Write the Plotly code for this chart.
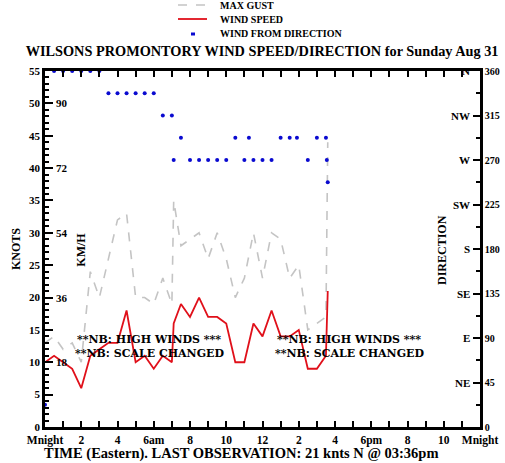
import plotly.graph_objects as go

# observation times (hours since midnight) and values
hours = [0, 0.5, 1, 1.5, 2, 2.5, 3, 3.5, 4, 4.5, 5, 5.5, 6, 6.5, 7, 7.1, 7.5, 8, 8.5,
         9, 9.5, 10, 10.5, 11, 11.5, 12, 12.5, 13, 13.5, 14, 14.5, 15, 15.5, 15.6]
wind_speed = [10, 11, 10, 9, 6, 11, 12, 13, 13, 18, 10, 11, 9, 11, 10, 16, 19, 17, 20,
              17, 17, 16, 10, 10, 16, 14, 18, 14, 14, 15, 9, 9, 11, 21]
max_gust = [13, 14, 12, 13, 10, 24, 20, 26, 32, 33, 20, 20, 19, 23, 19, 35, 28, 29, 30,
            26, 30, 26, 20, 23, 30, 23, 30, 29, 23, 25, 15, 16, 17, 44]

dir_hours = [0, 0.5, 1, 1.5, 2, 2.5, 3, 3.5, 4, 4.5, 5, 5.5, 6, 6.5, 7, 7.1, 7.5,
             8, 8.5, 9, 9.5, 10, 10.5, 11, 11.25, 11.5, 12, 12.5, 13, 13.5, 13.9,
             14.5, 15, 15.5, 15.55, 15.6]
direction = [22.5, 360, 360, 360, 360, 360, 360,
             337.5, 337.5, 337.5, 337.5, 337.5, 337.5, 315, 315, 270, 292.5,
             270, 270, 270, 270, 270, 292.5, 270, 292.5, 270, 270, 270,
             292.5, 292.5, 292.5, 270, 292.5, 292.5, 270, 247.5]

x_ticks = list(range(0, 25))
x_labels = ["Mnight", "", "2", "", "4", "", "6am", "", "8", "", "10", "", "12", "",
            "2", "", "4", "", "6pm", "", "8", "", "10", "", "Mnight"]
kmh_knots = [10, 20, 30, 40, 50]
kmh_labels = ["18", "36", "54", "72", "90"]
dir_ticks = [0, 45, 90, 135, 180, 225, 270, 315, 360]
compass_deg = [45, 90, 135, 180, 225, 270, 315, 360]
compass_labels = ["NE", "E", "SE", "S", "SW", "W", "NW", "N"]
legend_names = ["MAX GUST", "WIND SPEED", "WIND FROM DIRECTION"]

FONT = "Liberation Serif"
GUST_COLOR = "#c4c4c4"
SPEED_COLOR = "#e0101a"
DIR_COLOR = "#0a0ad0"
W, H = 505, 463
ML, MR, MT, MB = 45, 25, 71, 36
PW, PH = W - ML - MR, H - MT - MB


def px_x(x):
    # page pixel -> plot paper fraction
    return (x - ML) / PW


def px_y(y):
    return (H - MB - y) / PH


fig = go.Figure()
fig.add_trace(go.Scatter(x=hours, y=max_gust, mode="lines", name=legend_names[0],
                         line=dict(color=GUST_COLOR, width=1.6, dash="dash")))
fig.add_trace(go.Scatter(x=hours, y=wind_speed, mode="lines", name=legend_names[1],
                         line=dict(color=SPEED_COLOR, width=1.8)))
fig.add_trace(go.Scatter(x=dir_hours, y=direction, mode="markers", name=legend_names[2],
                         yaxis="y2", cliponaxis=False,
                         marker=dict(color=DIR_COLOR, size=4, symbol="circle")))

annotations = []
for k, lab in zip(kmh_knots, kmh_labels):
    annotations.append(dict(x=0, xref="paper", y=k, yref="y", text=lab, showarrow=False,
                            xanchor="left", xshift=9, font=dict(size=11)))
for d, lab in zip(compass_deg, compass_labels):
    annotations.append(dict(x=1, xref="paper", y=d, yref="y2", text=lab, showarrow=False,
                            xanchor="right", xshift=-8, font=dict(size=11)))
nb_font = dict(family="DejaVu Serif", size=11)
annotations += [
    dict(x=0, xref="paper", xshift=-38, y=27.5, yref="y", text="KNOTS", textangle=-90,
         showarrow=False, font=dict(size=12)),
    dict(x=0, xref="paper", xshift=27, y=27.4, yref="y", text="KM/H", textangle=-90,
         showarrow=False, font=dict(size=12)),
    dict(x=1, xref="paper", xshift=-29, y=179, yref="y2", text="DIRECTION", textangle=-90,
         showarrow=False, font=dict(size=12)),
    dict(x=1.65, y=13.5, text="**NB: HIGH WINDS ***", showarrow=False, xanchor="left",
         font=nb_font),
    dict(x=1.55, y=11.3, text="**NB: SCALE CHANGED", showarrow=False, xanchor="left",
         font=nb_font),
    dict(x=12.7, y=13.5, text="**NB: HIGH WINDS ***", showarrow=False, xanchor="left",
         font=nb_font),
    dict(x=12.6, y=11.3, text="**NB: SCALE CHANGED", showarrow=False, xanchor="left",
         font=nb_font),
    dict(x=px_x(241), xref="paper", y=px_y(453), yref="paper", yanchor="middle",
         text="TIME (Eastern). LAST OBSERVATION: 21 knts N @ 03:36pm", showarrow=False,
         font=dict(size=14.5)),
]

# hand-drawn legend above the title (plotly's legend rows are too tall here)
legend_rows = [5, 19, 34]
shapes = [
    dict(type="line", xref="paper", yref="paper", x0=px_x(178), x1=px_x(207),
         y0=px_y(legend_rows[0]), y1=px_y(legend_rows[0]),
         line=dict(color=GUST_COLOR, width=1.6, dash="dash")),
    dict(type="line", xref="paper", yref="paper", x0=px_x(178), x1=px_x(207),
         y0=px_y(legend_rows[1]), y1=px_y(legend_rows[1]),
         line=dict(color=SPEED_COLOR, width=1.8)),
    dict(type="rect", xref="paper", yref="paper", x0=px_x(191), x1=px_x(195),
         y0=px_y(legend_rows[2] + 1.5), y1=px_y(legend_rows[2] - 1.5),
         fillcolor=DIR_COLOR, line=dict(width=0)),
]
for name, ly in zip(legend_names, legend_rows):
    annotations.append(dict(x=px_x(218), xref="paper", y=px_y(ly), yref="paper",
                            text=name, showarrow=False, xanchor="left", yanchor="middle",
                            font=dict(size=10)))

fig.update_layout(
    width=W, height=H,
    margin=dict(l=ML, r=MR, t=MT, b=MB, autoexpand=False),
    paper_bgcolor="white", plot_bgcolor="white",
    font=dict(family=FONT, color="black", size=11, weight="bold"),
    title=dict(text="WILSONS PROMONTORY WIND SPEED/DIRECTION for Sunday Aug 31",
               x=0.519, xanchor="center", y=1 - 51 / H, yref="container", yanchor="middle",
               font=dict(size=14.3)),
    showlegend=False,
    xaxis=dict(range=[0, 24], tickvals=x_ticks, ticktext=x_labels, ticks="inside",
               ticklen=6, tickwidth=1.5, tickcolor="black", showline=True, linewidth=2.5,
               linecolor="black", mirror="ticks", showgrid=False, zeroline=False,
               tickangle=0, tickfont=dict(size=11.5), ticklabelstandoff=0),
    yaxis=dict(range=[0, 55], dtick=5, ticks="inside", ticklen=8, tickwidth=1.5,
               tickcolor="black", showline=True, linewidth=2.5, linecolor="black",
               showgrid=False, zeroline=False,
               minor=dict(dtick=1, ticks="inside", ticklen=4, tickcolor="black")),
    yaxis2=dict(range=[0, 360], overlaying="y", side="right", tickvals=dir_ticks,
                ticks="inside", ticklen=7, tickwidth=1.5, tickcolor="black", showline=True,
                linewidth=2.5, linecolor="black", showgrid=False, zeroline=False,
                tickfont=dict(size=10),
                minor=dict(dtick=22.5, ticks="inside", ticklen=4, tickcolor="black")),
    annotations=annotations,
    shapes=shapes,
)

fig.write_html("out.html", config={"displayModeBar": False},
               post_script="document.body.style.margin='0';")
